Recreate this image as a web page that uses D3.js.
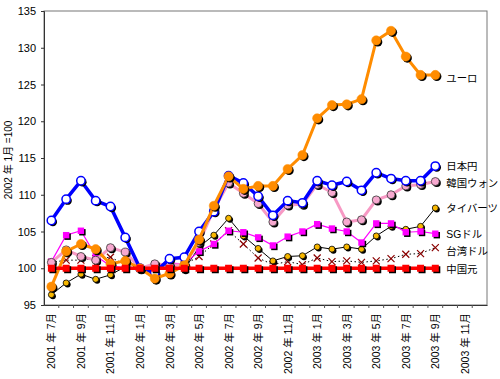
<!DOCTYPE html>
<html><head><meta charset="utf-8">
<script src="https://cdn.jsdelivr.net/npm/d3@7"></script>
<style>
html,body{margin:0;padding:0;background:#fff;}
svg text{font-family:"Liberation Sans","Noto Sans CJK JP",sans-serif;}
</style></head>
<body><svg id="c" width="500" height="379"></svg>
<script>
// months (categories)
const months = [
 "2001-07","2001-08","2001-09","2001-10","2001-11","2001-12",
 "2002-01","2002-02","2002-03","2002-04","2002-05","2002-06","2002-07","2002-08","2002-09","2002-10","2002-11","2002-12",
 "2003-01","2003-02","2003-03","2003-04","2003-05","2003-06","2003-07","2003-08","2003-09","2003-10","2003-11","2003-12"];
const tickLabels = ["2001 年 7月","2001 年 9月","2001 年 11月","2002 年 1月","2002 年 3月","2002 年 5月","2002 年 7月","2002 年 9月","2002 年 11月","2003 年 1月","2003 年 3月","2003 年 5月","2003 年 7月","2003 年 9月","2003 年 11月"];
const yTicks = [95,100,105,110,115,120,125,130,135];

const euro   = [97.5,102.3,103.3,102.6,100.6,101.0,100,98.6,99.3,100.4,103.9,108.5,112.5,110.8,111.2,111.2,113.5,115.4,120.4,122.2,122.3,123.0,131.0,132.3,128.8,126.3,126.3];
const yen    = [106.5,109.4,111.9,109.2,108.4,104.2,100,99.4,101.3,101.5,105.0,107.7,112.6,111.6,109.8,107.2,109.2,108.9,111.9,111.3,111.8,110.6,113.0,112.2,111.9,111.9,113.9];
const won    = [100.8,102.5,101.6,101.1,102.8,102.2,100,100.6,100.4,100.5,103.5,108.0,111.6,110.2,108.8,106.3,108.6,108.7,111.4,110.3,106.3,106.6,109.3,110.0,111.2,111.4,111.8];
const baht   = [96.4,98.0,99.2,98.5,99.1,100.2,100,100.2,100.4,99.8,102.9,104.5,106.8,104.4,102.7,101.0,101.6,101.7,102.9,102.6,102.9,102.6,104.4,105.7,105.3,105.7,108.2];
const sgd    = [100.9,104.5,105.1,101.7,100.3,100.1,100,100.5,100.7,100.6,102.3,103.3,105.1,104.9,104.2,103.1,104.3,105.0,106.0,105.4,105.0,103.5,106.1,106.1,104.9,105.0,104.7];
const twd    = [100.8,101.1,101.1,101.3,101.5,100.5,100,100.2,100.4,100.5,101.6,103.3,105.1,103.3,101.4,100.5,100.9,100.5,101.4,100.9,101.0,100.8,101.0,101.3,101.9,102.0,102.8];
const cny    = [100,100,100,100,100,100,100,100,100,100,100,100,100,100,100,100,100,100,100,100,100,100,100,100,100,100,100];
const seriesNames = ["ユーロ","日本円","韓国ウォン","タイバーツ","SGドル","台湾ドル","中国元"];
const yTitle = "2002 年 1月 =100";

const svg = d3.select("#c");
const L=44,R=487,T=11,B=305;
const x = d3.scaleBand().domain(months).range([L,R]);
const y = d3.scaleLinear().domain([95,135]).range([B,T]);
const cx = i => x(months[i]) + x.bandwidth()/2;

// frame
svg.append("rect").attr("x",L).attr("y",T).attr("width",R-L).attr("height",B-T)
  .attr("fill","none").attr("stroke","#777").attr("stroke-width",1);

// y axis
const ya = svg.append("g").attr("transform",`translate(${L},0)`)
  .call(d3.axisLeft(y).tickValues(yTicks).tickSize(3).tickPadding(5).tickFormat(d3.format("d")));
ya.select(".domain").attr("stroke","#333");
ya.selectAll(".tick line").attr("stroke","#333");
ya.selectAll("text").attr("font-size",11).attr("fill","#000");

// x axis
const xa = svg.append("g").attr("transform",`translate(0,${B})`)
  .call(d3.axisBottom(x).tickValues([]).tickSize(0));
xa.select(".domain").attr("stroke","#333");
xa.selectAll(".bt").data(months.slice(1)).enter().append("line")
  .attr("x1",d=>x(d)).attr("x2",d=>x(d)).attr("y1",0).attr("y2",3).attr("stroke","#555");
xa.selectAll(".lbl").data(tickLabels).enter().append("text")
  .attr("transform",(d,i)=>`translate(${cx(i*2)+4},8) rotate(-90)`)
  .attr("text-anchor","end").attr("font-size",10.5).attr("fill","#000").text(d=>d);

// y title
svg.append("text").attr("transform","translate(12,160) rotate(-90)")
  .attr("text-anchor","middle").attr("font-size",10).text(yTitle);

const line = d3.line().x((d,i)=>cx(i)).y(d=>y(d));
const g = svg.append("g");

function drawSeries(vals, opt){
  g.append("path").datum(vals).attr("d",line).attr("fill","none")
   .attr("stroke",opt.color).attr("stroke-width",opt.lw)
   .attr("stroke-dasharray",opt.dash||null).attr("stroke-linejoin","round");
  const m = g.append("g");
  vals.forEach((v,i)=>{
    const px=cx(i), py=y(v);
    if(opt.marker==="circle"){
      m.append("circle").attr("cx",px+1.5).attr("cy",py+1.5).attr("r",opt.r).attr("fill","#000");
      m.append("circle").attr("cx",px).attr("cy",py).attr("r",opt.r)
        .attr("fill",opt.fill).attr("stroke",opt.stroke).attr("stroke-width",opt.sw);
    } else if(opt.marker==="square"){
      const s=opt.r*2;
      m.append("rect").attr("x",px-opt.r+1.5).attr("y",py-opt.r+1.5).attr("width",s).attr("height",s).attr("fill","#000");
      m.append("rect").attr("x",px-opt.r).attr("y",py-opt.r).attr("width",s).attr("height",s).attr("fill",opt.fill);
    } else if(opt.marker==="x"){
      const r=opt.r;
      m.append("path").attr("d",`M${px-r},${py-r}L${px+r},${py+r}M${px-r},${py+r}L${px+r},${py-r}`)
        .attr("stroke",opt.color2).attr("stroke-width",1.2);
    }
  });
}

drawSeries(twd,{color:"#000",lw:1,dash:"1.5,2.5",marker:"x",r:3.5,color2:"#8B0000"});
drawSeries(baht,{color:"#000",lw:1,marker:"circle",r:3,fill:"#F8B800",stroke:"#000",sw:0.8});
drawSeries(sgd,{color:"#FF00FF",lw:1.2,marker:"square",r:3.2,fill:"#FF00FF"});
drawSeries(won,{color:"#F799C4",lw:3,marker:"circle",r:4,fill:"#F7A8CF",stroke:"#333",sw:0.8});
drawSeries(yen,{color:"#0000FF",lw:3.5,marker:"circle",r:4.2,fill:"#fff",stroke:"#0000FF",sw:1.5});
drawSeries(euro,{color:"#FF8C00",lw:3,marker:"circle",r:4.6,fill:"#FF8C00",stroke:"#FF8C00",sw:0.5});
drawSeries(cny,{color:"#FF0000",lw:3.5,marker:"square",r:3.5,fill:"#FF0000"});

// series labels
const lastVals=[euro,yen,won,baht,sgd,twd,cny].map(a=>a[a.length-1]);
const dy=[3,0,1,0,0,3,1];
svg.selectAll(".sl").data(seriesNames).enter().append("text")
  .attr("x",cx(26)+11).attr("y",(d,i)=>y(lastVals[i])+dy[i]+4)
  .attr("font-size",10.4).attr("font-family","Noto Sans CJK JP").attr("fill","#000").text(d=>d);
</script></body></html>
